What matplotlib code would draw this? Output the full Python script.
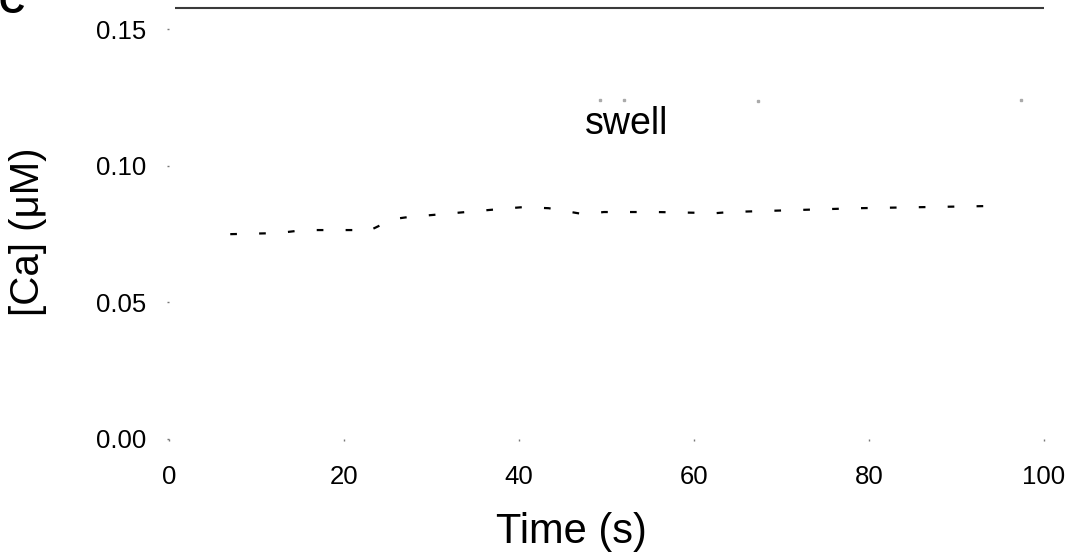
import matplotlib
matplotlib.use("Agg")
import matplotlib.pyplot as plt

plt.rcParams['font.family'] = ['Liberation Sans', 'DejaVu Sans']

# Lower trace (faded scan: visible fragments)
t_lower = [7.0, 12.5, 15.4, 21.5, 22.5, 25.6, 27.2, 38.9, 40.5, 43.4,
           47.4, 49.7, 55.7, 62.5, 64.1, 78.7, 93.8]
ca_lower = [0.0750, 0.0754, 0.0765, 0.0765, 0.0757, 0.0805, 0.0812, 0.0845,
            0.0849, 0.0845, 0.0823, 0.0831, 0.0831, 0.0827, 0.0831, 0.0845, 0.0853]

# Faint upper ("swell") trace fragments
t_swell = [49.3, 52.0, 67.3, 97.4]
ca_swell = [0.1240, 0.1240, 0.1237, 0.1240]

# Top line
t_top = [0.7, 100.2]
ca_top = [0.1577, 0.1577]

xticks = [0, 20, 40, 60, 80, 100]
yticks = [0.00, 0.05, 0.10, 0.15]

fig = plt.figure(figsize=(10.71, 5.55), dpi=100)
ax = fig.add_axes([169/1071, (555-439)/555, 875/1071, 437/555])
ax.set_xlim(0, 100)
ax.set_ylim(0, 0.16)
for s in ax.spines.values():
    s.set_visible(False)

ax.plot(t_top, ca_top, color='#3a3a3a', lw=1.5, solid_capstyle='butt')
ax.plot(t_lower, ca_lower, color='black', lw=1.6, linestyle=(0, (3, 10)))
ax.plot(t_swell, ca_swell, linestyle='none', marker='s', ms=1.5, color='#aaaaaa')

ax.text(47.5, 0.1116, 'swell', fontsize=27, ha='left', va='baseline')

ax.set_xticks(xticks)
ax.set_xticklabels([str(v) for v in xticks])
ax.set_yticks(yticks)
ax.set_yticklabels(['%.2f' % v for v in yticks])
ax.tick_params(axis='x', length=1.5, width=1, color='#777777', direction='out',
               labelsize=18.5, pad=17)
ax.tick_params(axis='y', length=1.5, width=1, color='#777777', direction='out',
               labelsize=18.5, pad=15)

fig.text(28/1071, 1-232/555, '[Ca] (\u03bcM)', rotation=90, fontsize=29,
         ha='center', va='center')
fig.text(571/1071, (555-543)/555, 'Time (s)', fontsize=30,
         ha='center', va='baseline')
fig.text(-2/1071, (555-13)/555, 'C', fontsize=26, fontweight='bold',
         ha='left', va='baseline')

fig.savefig('out.png', dpi=100)
